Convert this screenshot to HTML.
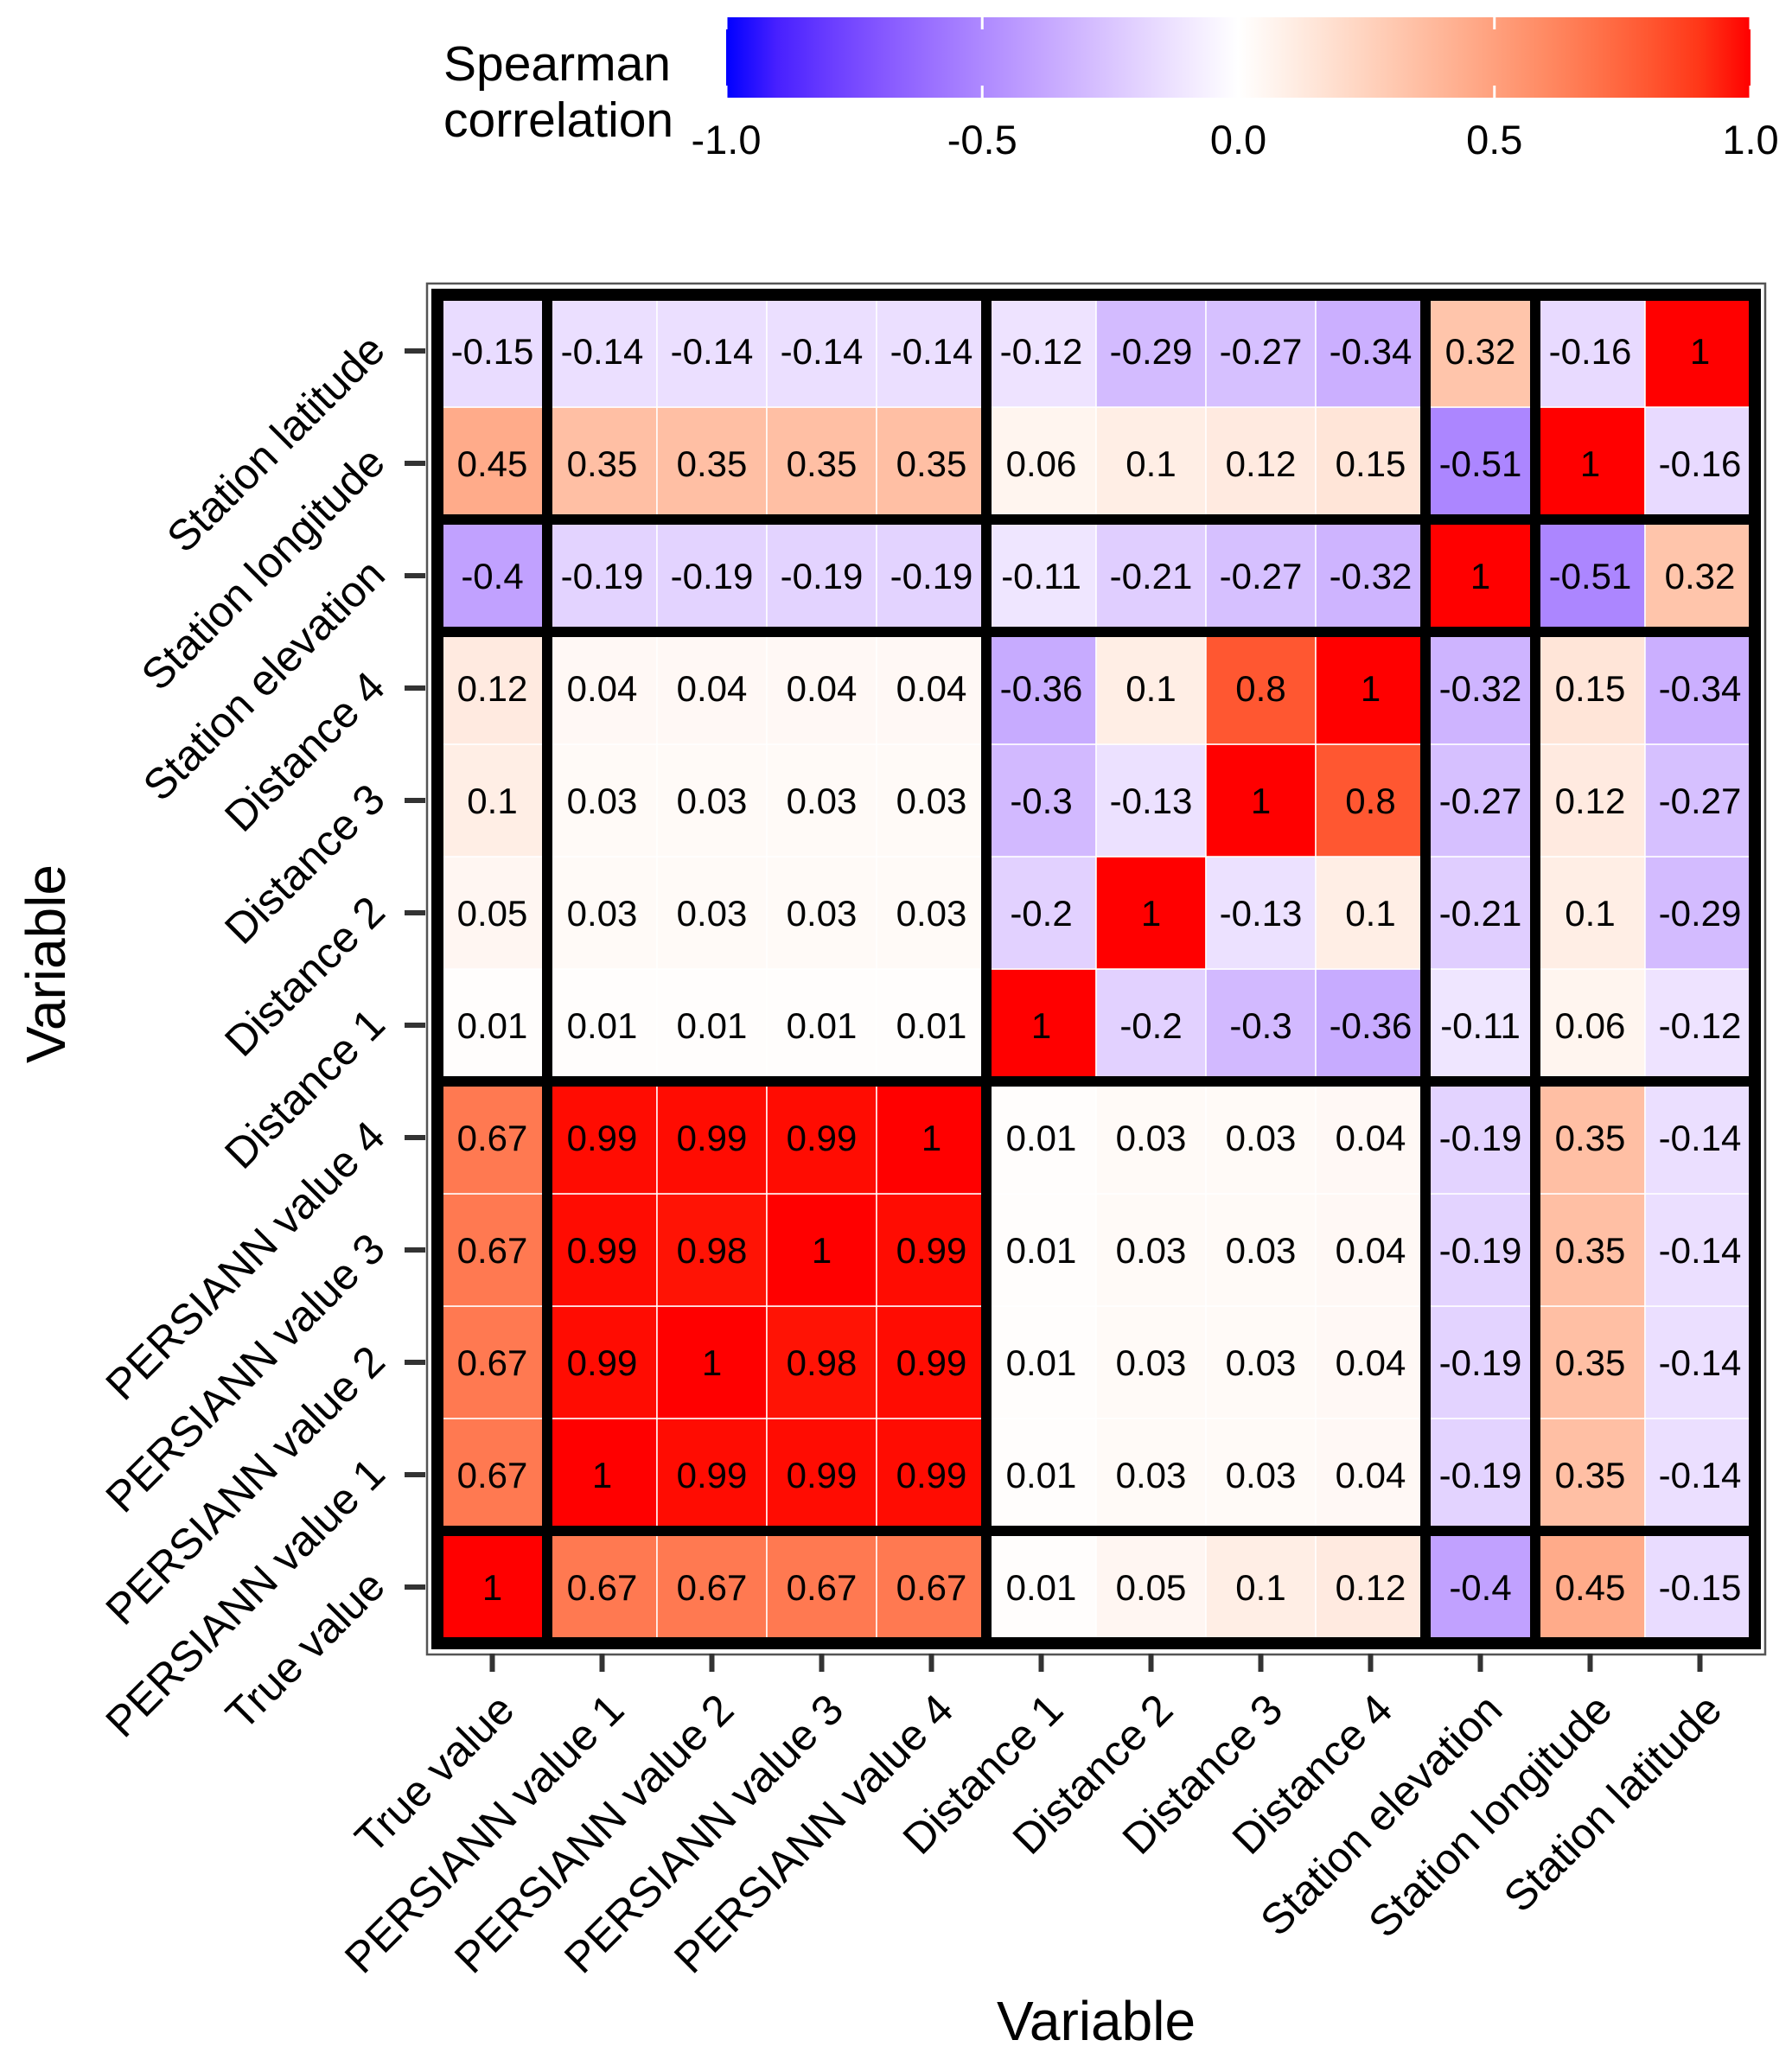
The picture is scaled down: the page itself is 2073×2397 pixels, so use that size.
<!DOCTYPE html>
<html><head><meta charset="utf-8"><style>
html,body{margin:0;padding:0;background:#fff;}
svg{display:block;font-family:"Liberation Sans",Arial,sans-serif;}
</style></head><body>
<svg id="chart" width="2073" height="2397" viewBox="0 0 2073 2397" xmlns="http://www.w3.org/2000/svg">
<defs>
<linearGradient id="cbar" x1="0" x2="1" y1="0" y2="0"></linearGradient>
</defs>
<g id="legend">
<text x="513" y="93" font-size="57">Spearman</text>
<text x="513" y="158" font-size="57">correlation</text>
<rect x="840" y="20" width="1185" height="93" fill="url(#cbar)"/>
</g>
<g id="cells"></g>
<g id="blocks"></g>
<g id="axes"></g>
<text x="1268" y="2360" font-size="64" text-anchor="middle">Variable</text>
<text transform="translate(75,1115) rotate(-90)" font-size="64" text-anchor="middle">Variable</text>
</svg>
<script>
const variables = ["True value","PERSIANN value 1","PERSIANN value 2","PERSIANN value 3","PERSIANN value 4","Distance 1","Distance 2","Distance 3","Distance 4","Station elevation","Station longitude","Station latitude"];
const corrTV   = [1,0.67,0.67,0.67,0.67,0.01,0.05,0.1,0.12,-0.4,0.45,-0.15];
const corrP1   = [0.67,1,0.99,0.99,0.99,0.01,0.03,0.03,0.04,-0.19,0.35,-0.14];
const corrP2   = [0.67,0.99,1,0.98,0.99,0.01,0.03,0.03,0.04,-0.19,0.35,-0.14];
const corrP3   = [0.67,0.99,0.98,1,0.99,0.01,0.03,0.03,0.04,-0.19,0.35,-0.14];
const corrP4   = [0.67,0.99,0.99,0.99,1,0.01,0.03,0.03,0.04,-0.19,0.35,-0.14];
const corrD1   = [0.01,0.01,0.01,0.01,0.01,1,-0.2,-0.3,-0.36,-0.11,0.06,-0.12];
const corrD2   = [0.05,0.03,0.03,0.03,0.03,-0.2,1,-0.13,0.1,-0.21,0.1,-0.29];
const corrD3   = [0.1,0.03,0.03,0.03,0.03,-0.3,-0.13,1,0.8,-0.27,0.12,-0.27];
const corrD4   = [0.12,0.04,0.04,0.04,0.04,-0.36,0.1,0.8,1,-0.32,0.15,-0.34];
const corrElev = [-0.4,-0.19,-0.19,-0.19,-0.19,-0.11,-0.21,-0.27,-0.32,1,-0.51,0.32];
const corrLon  = [0.45,0.35,0.35,0.35,0.35,0.06,0.1,0.12,0.15,-0.51,1,-0.16];
const corrLat  = [-0.15,-0.14,-0.14,-0.14,-0.14,-0.12,-0.29,-0.27,-0.34,0.32,-0.16,1];
const groupBounds = [1,5,9,10];
const rowGroupBounds = [1,5,9,10];
const legendTicks = [-1,-0.5,0,0.5,1];
const legendTickLabels = ["-1.0","-0.5","0.0","0.5","1.0"];

const matrix = [corrTV,corrP1,corrP2,corrP3,corrP4,corrD1,corrD2,corrD3,corrD4,corrElev,corrLon,corrLat];
const NS="http://www.w3.org/2000/svg";
const X0=506, PX=127, Y0=341, PY=130, N=variables.length;
const xPos=i=>X0+i*PX;
const yPos=j=>Y0+(N-1-j)*PY;
function color(v){
  let r,g,b;
  if(v>=0){r=255;g=255*Math.pow(1-v,0.67);b=255*Math.pow(1-v,1.03);}
  else{const t=-v;r=255*Math.pow(1-t,0.55);g=255*Math.pow(1-t,0.9);b=255;}
  return `rgb(${Math.round(r)},${Math.round(g)},${Math.round(b)})`;
}
function mk(tag,attrs,parent){const e=document.createElementNS(NS,tag);for(const k in attrs)e.setAttribute(k,attrs[k]);parent.appendChild(e);return e;}
const grad=document.getElementById('cbar');
for(let k=0;k<=20;k++){const v=-1+k/10;mk('stop',{offset:(k/20),'stop-color':color(v)},grad);}
const legend=document.getElementById('legend');
const lx=v=>840+(v+1)/2*1185;
legendTicks.forEach((v,i)=>{
  const t1=mk('line',{x1:lx(v),x2:lx(v),y1:20,y2:34,stroke:'#fff','stroke-width':3},legend);
  
  
  const t2=mk('line',{x1:lx(v),x2:lx(v),y1:99,y2:113,stroke:'#fff','stroke-width':3},legend);
  
  
  const tx=mk('text',{x:lx(v),y:178,'font-size':47,'text-anchor':'middle'},legend);
  tx.textContent=legendTickLabels[i];
  
  
});
const cells=document.getElementById('cells');
for(let j=0;j<N;j++){for(let i=0;i<N;i++){
  const v=matrix[j][i];
  const r=mk('rect',{x:xPos(i),y:yPos(j),width:PX,height:PY,fill:color(v),stroke:'#fff','stroke-width':1.5},cells);
  
  
  const t=mk('text',{x:xPos(i)+PX/2,y:yPos(j)+PY/2+15,'font-size':42,'text-anchor':'middle'},cells);
  t.textContent=String(v);
  
  
}}
const blocks=document.getElementById('blocks');
const W=N*PX,H=N*PY;
groupBounds.forEach(b=>{
  const l=mk('line',{x1:xPos(b),x2:xPos(b),y1:Y0,y2:Y0+H,stroke:'#000','stroke-width':12},blocks);
  
  
});
rowGroupBounds.forEach(b=>{
  const y=yPos(b)+PY;
  const l=mk('line',{x1:X0,x2:X0+W,y1:y,y2:y,stroke:'#000','stroke-width':12},blocks);
  
  
});
const fr=mk('rect',{x:X0,y:Y0,width:W,height:H,fill:'none',stroke:'#000','stroke-width':14},blocks);


const fo=mk('rect',{x:X0-12,y:Y0-13,width:W+24,height:H+26,fill:'none',stroke:'#555','stroke-width':2.5},blocks);


const axes=document.getElementById('axes');
for(let i=0;i<N;i++){
  const cx=xPos(i)+PX/2;
  const tk=mk('line',{x1:cx,x2:cx,y1:Y0+H+12,y2:Y0+H+33,stroke:'#333','stroke-width':6},axes);
  
  
  const t=mk('text',{transform:`translate(${cx+28},${Y0+H+80}) rotate(-45)`,'font-size':50,'text-anchor':'end'},axes);
  t.textContent=variables[i];
  
  
}
for(let j=0;j<N;j++){
  const cy=yPos(j)+PY/2;
  const tk=mk('line',{x1:X0-38,x2:X0-14,y1:cy,y2:cy,stroke:'#333','stroke-width':6},axes);
  
  
  const t=mk('text',{transform:`translate(${X0-58},${cy+2}) rotate(-45)`,'font-size':50,'text-anchor':'end'},axes);
  t.textContent=variables[j];
  
  
}
</script>
</body></html>
